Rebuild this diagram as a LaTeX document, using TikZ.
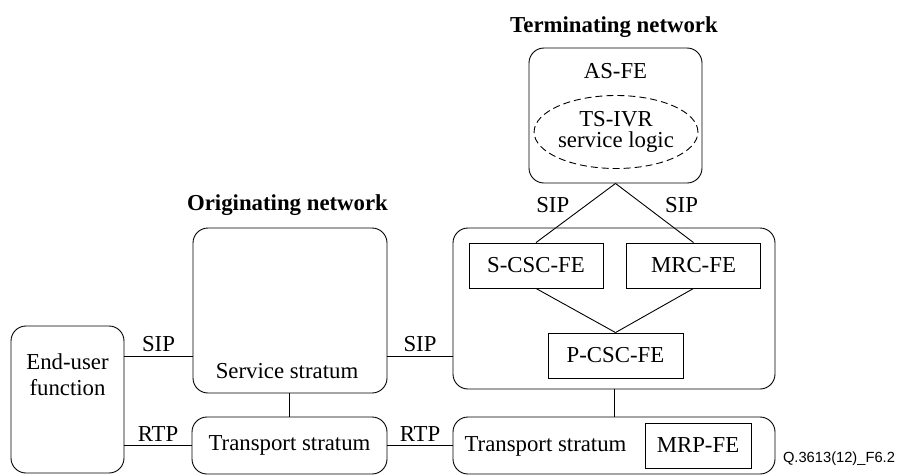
\documentclass[tikz,border=0pt]{standalone}
\usepackage{fontspec}
\setmainfont{Liberation Serif}
\setsansfont{Liberation Sans}
\usetikzlibrary{shapes.geometric}

\begin{document}
\begin{tikzpicture}[
            x = 1pt, y = -1pt, % one unit per pixel, y downwards
            line width = 0.9pt, % line style
            font = \fontsize{22.8}{26}\selectfont
        ]

        \tikzstyle{block}=[
            draw = black,
            rounded corners = 15pt,
            inner sep = 0pt
        ]
        \tikzstyle{fe}=[
            draw = black,
            inner sep = 0pt,
            minimum height = 45pt
        ]
        \tikzstyle{lbl}=[inner sep = 3.5pt]
        \tikzstyle{title}=[font = \fontsize{22.8}{26}\selectfont\bfseries, anchor = base]

        \useasboundingbox (0,0) rectangle (907,475);

        % originating side
        \node[block, minimum width = 113pt, minimum height = 147pt] (eu) at (67.5,399.5) {};
        \node[align = center, anchor = base] (eutxt) at (67.5,395) {End-user\\function};
        \node[block, minimum width = 194pt, minimum height = 165pt] (srv) at (290,310.5) {};
        \node[anchor = base] (srvtxt) at (287,378) {Service stratum};
        \node[block, minimum width = 195pt, minimum height = 57pt] (tsl) at (289.5,445.5) {Transport stratum};
        \node[title] (orig) at (287.5,210) {Originating network};

        % terminating side
        \node[block, minimum width = 322pt, minimum height = 161pt] (trm) at (614,308.5) {};
        \node[fe, minimum width = 134pt] (scsc) at (536,265.5) {S-CSC-FE};
        \node[fe, minimum width = 134pt] (mrc) at (693.5,265.5) {MRC-FE};
        \node[fe, minimum width = 135pt] (pcsc) at (615.5,355.5) {P-CSC-FE};
        \node[block, minimum width = 322pt, minimum height = 57pt] (tsr) at (614,445.5) {};
        \node[anchor = base] (tsrtxt) at (545.5,451.5) {Transport stratum};
        \node[fe, minimum width = 106pt] (mrp) at (698,445.5) {MRP-FE};

        \node[block, minimum width = 173pt, minimum height = 135pt] (as) at (615.5,115.5) {};
        \node[anchor = base] (astxt) at (615.5,78) {AS-FE};
        \node[ellipse, draw, dash pattern = on 7pt off 4pt, minimum width = 151pt, minimum height = 73pt,
              inner sep = 0pt, align = center, font = \fontsize{22.8}{22}\selectfont] (ivr) at (616,132)
              {TS-IVR\\[-1pt]service logic};
        \node[title] (term) at (614,32) {Terminating network};

        \node[font = \fontsize{14.7}{16}\sffamily, anchor = base] (fig) at (839,462) {Q.3613(12)\_F6.2};

        % connections
        \coordinate (sipy) at (0,356);
        \draw (eu.east |- sipy) -- node[lbl, above] {SIP} (srv.west |- sipy);
        \draw (srv.east |- sipy) -- node[lbl, above] {SIP} (trm.west |- sipy);
        \draw (eu.east |- tsl.west) -- node[lbl, above] {RTP} (tsl.west);
        \draw (tsl.east) -- node[lbl, above] {RTP} (tsr.west);
        \draw (srv.south -| tsl.north) -- (tsl.north);
        \draw (trm.south) -- (tsr.north);

        \draw (as.south) -- node[inner sep = 0pt, midway, xshift = -23pt, yshift = 7.5pt] {SIP} (scsc.north);
        \draw (as.south) -- node[inner sep = 0pt, midway, xshift = 27pt, yshift = 7.5pt] {SIP} (mrc.north);
        \draw (scsc.south) -- (pcsc.north);
        \draw (mrc.south) -- (pcsc.north);

  \end{tikzpicture}
\end{document}
